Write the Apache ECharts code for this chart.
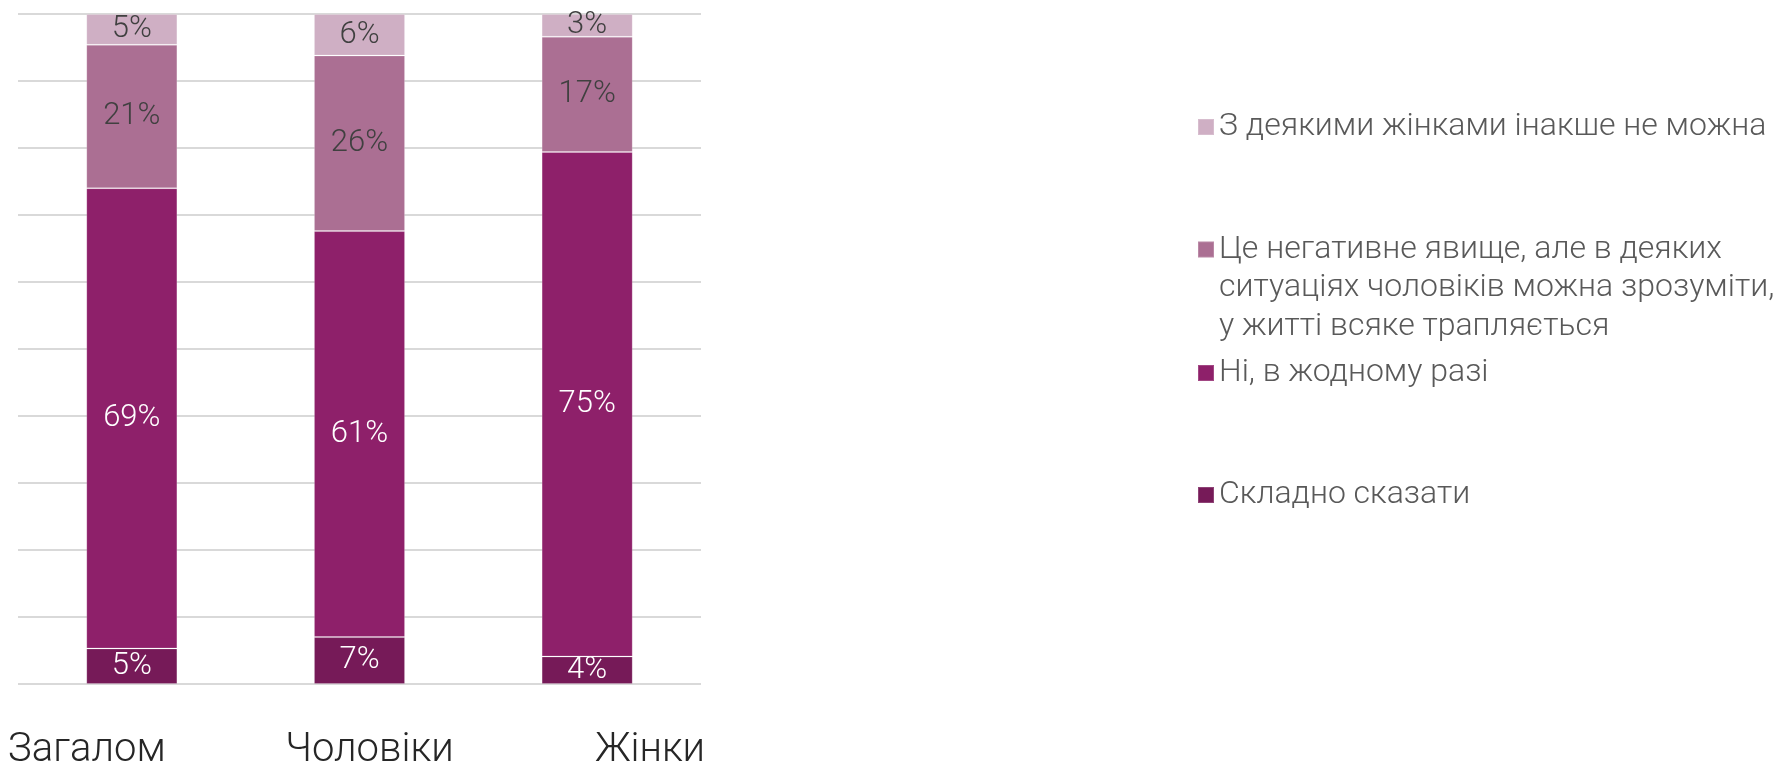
<!DOCTYPE html>
<html>
<head>
<meta charset="utf-8">
<script src="https://cdn.jsdelivr.net/npm/echarts@6/dist/echarts.min.js"></script>
<style>
html,body{margin:0;padding:0;background:#fff;}
#chart{width:1778px;height:764px;}
</style>
</head>
<body>
<div id="chart"></div>
<script>
const categories = ['Загалом', 'Чоловіки', 'Жінки'];
const seriesNames = [
  'Складно сказати',
  'Ні, в жодному разі',
  'Це негативне явище, але в деяких\nситуаціях чоловіків можна зрозуміти,\nу житті всяке трапляється',
  'З деякими жінками інакше не можна'
];
const hardToSay = [5.3, 7.0, 4.1];
const noWay = [68.7, 60.6, 75.3];
const negativeButUnderstand = [21.4, 26.2, 17.2];
const noOtherWay = [4.6, 6.2, 3.4];
const yTicks = { min: 0, max: 100, interval: 10 };

const colors = ['#761a58', '#8e206a', '#ab6f93', '#cfafc4'];
const labelColors = ['#ffffff', '#ffffff', '#404040', '#404040'];
const values = [hardToSay, noWay, negativeButUnderstand, noOtherWay];

const chart = echarts.init(document.getElementById('chart'), null, { renderer: 'canvas' });

const series = seriesNames.map((name, i) => ({
  name: name,
  type: 'bar',
  stack: 'total',
  barWidth: '40%',
  data: values[i],
  itemStyle: { color: colors[i], borderColor: 'rgba(255,255,255,0.18)', borderWidth: 1 },
  label: {
    show: true,
    position: 'inside',
    color: labelColors[i],
    fontFamily: 'Roboto',
    fontWeight: 300,
    fontSize: 31,
    formatter: p => Math.round(p.value) + '%'
  },
  emphasis: { disabled: true }
}));

// legend layout: one legend per item
const legendX = 1197;
const legendCenters = [495, 373, 249.5, 127];
const legendFont = 32;
const legendLH = 38.5;
const legends = seriesNames.map((name, i) => {
  const lines = name.split('\n').length;
  const blockH = lines * legendLH;
  const top = legendCenters[i] - legendLH / 2;
  const blockCenter = top + blockH / 2;
  const sq = 16;
  const iconH = lines > 1 ? 2 * (blockCenter - (legendCenters[i] - sq / 2)) : sq;
  const icon = lines > 1
    ? 'path://M0,0h16v16h-16zM0,' + (iconH - 0.1).toFixed(2) + 'h0.1v0.1h-0.1z'
    : 'rect';
  return {
    data: [name],
    orient: 'vertical',
    left: legendX,
    top: top,
    padding: 0,
    itemWidth: sq,
    itemHeight: iconH,
    icon: icon,
    selectedMode: false,
    textStyle: {
      fontFamily: 'Roboto',
      fontWeight: 300,
      fontSize: legendFont,
      lineHeight: legendLH,
      color: '#595959'
    }
  };
});

const labelShift = { 'Загалом': [0, 90], 'Чоловіки': [20, 0], 'Жінки': [126, 0] };
const rich = {};
categories.forEach((c, i) => {
  rich['c' + i] = {
    fontFamily: 'Roboto',
    fontWeight: 300,
    fontSize: 40,
    color: '#262626',
    padding: [0, labelShift[c][1], 0, labelShift[c][0]]
  };
});

chart.setOption({
  animation: false,
  backgroundColor: '#ffffff',
  grid: { left: 18, right: 1077, top: 14, bottom: 80, containLabel: false, outerBoundsMode: 'none' },
  xAxis: {
    type: 'category',
    data: categories,
    axisLine: { show: false },
    axisTick: { show: false },
    axisLabel: {
      margin: 47,
      interval: 0,
      formatter: (v, idx) => '{c' + idx + '|' + v + '}',
      rich: rich
    }
  },
  yAxis: {
    type: 'value',
    min: yTicks.min,
    max: yTicks.max,
    interval: yTicks.interval,
    axisLabel: { show: false },
    axisLine: { show: false },
    axisTick: { show: false },
    splitLine: { lineStyle: { color: '#d9d9d9', width: 2 } }
  },
  legend: legends,
  series: series
});
</script>
</body>
</html>
